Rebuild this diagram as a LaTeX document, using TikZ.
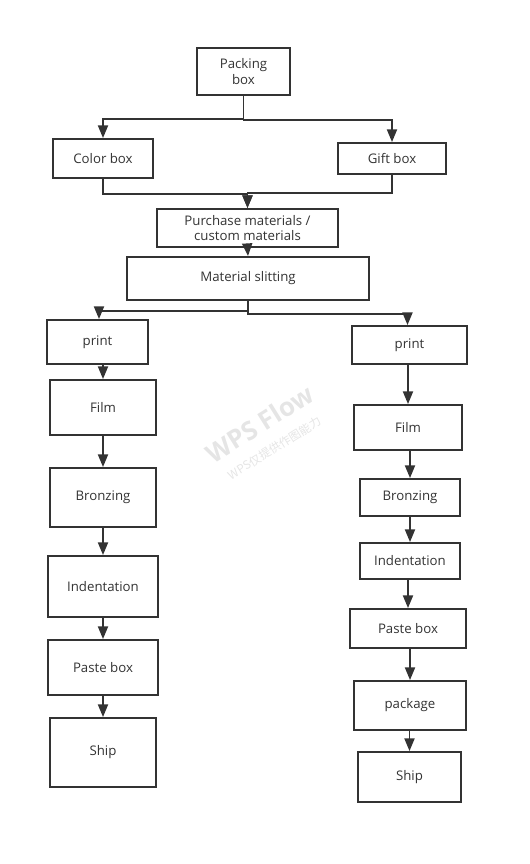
\documentclass[tikz,border=0pt]{standalone}
\usepackage{fontspec}
\setmainfont{Open Sans}
\newfontfamily\cjkfont{Noto Sans CJK SC}
\usetikzlibrary{arrows.meta}
\definecolor{mylinecolor}{rgb}{0.2,0.2,0.2}
\definecolor{mymarkcolor}{rgb}{0.9,0.9,0.9}

\begin{document}
\begin{tikzpicture}[x=0.03cm,y=-0.03cm,
    stepbox/.style={draw=mylinecolor,line width=1.6pt,align=center,
      font=\fontsize{11.3}{13}\selectfont,text=mylinecolor,inner sep=0pt},
    flow/.style={mylinecolor,line width=1.6pt,
      -{Triangle[length=0.38cm,width=0.3cm]}}]
  \useasboundingbox (0,0) rectangle (529,864);
  % watermark
  \node[rotate=32,text=mymarkcolor,align=center,
    font=\bfseries\fontsize{22}{22}\selectfont]
    (mark) at (266,434) {WPS Flow\\[-2pt]
      {\cjkfont\mdseries\fontsize{10}{10}\selectfont WPS仅提供作图能力}};
  % boxes: name/x/y/width/height/text
  \foreach \bn/\bx/\by/\bw/\bh/\bt in {
      pack/243.5/71.5/93/47/{Packing\\box},
      color/103/158.5/100/39/{Color box},
      gift/392/158.5/108/31/{Gift box},
      purch/247.5/228/181/38/{Purchase materials /\\custom materials},
      slit/248/278.5/242/43/{Material slitting},
      printL/97.5/342/101/44/{print},
      filmL/103/407.5/106/55/{Film},
      bronzeL/103/497.5/106/59/{Bronzing},
      indentL/103/586.5/110/61/{Indentation},
      pasteL/103/667.5/110/55/{Paste box},
      shipL/103/752.5/106/69/{Ship},
      printR/409.5/345/115/38/{print},
      filmR/408/427.5/108/45/{Film},
      bronzeR/410/497.5/100/37/{Bronzing},
      indentR/410/561/100/36/{Indentation},
      pasteR/408/628.5/116/39/{Paste box},
      packR/410/705.5/112/49/{package},
      shipR/409.5/777/103/50/{Ship}} {
    \node[stepbox,minimum width=\bw*0.03cm,minimum height=\bh*0.03cm]
      (\bn) at (\bx,\by) {\bt};}
  % top part
  \draw[flow] (pack.south) -- ++(0,23) -| (color.north);
  \draw[flow] (pack.south) -- ++(0,24) -| (gift.north);
  \draw[flow] (color.south) -- ++(0,15) -| (purch.north);
  \draw[flow] (gift.south) -- ++(0,18) -| (purch.north);
  \draw[flow] (purch.south) -- (slit.north);
  \draw[flow] (slit.south) -- ++(0,10) -| ([xshift=1.5*0.03cm]printL.north);
  \draw[flow] (slit.south) -- ++(0,13) -| ([xshift=-2*0.03cm]printR.north);
  % left chain
  \foreach \ta/\tb in {printL/filmL,filmL/bronzeL,bronzeL/indentL,
      indentL/pasteL,pasteL/shipL}
    \draw[flow] (\ta.south -| \tb.north) -- (\tb.north);
  % right chain
  \foreach \ta/\tb in {printR/filmR,filmR/bronzeR,bronzeR/indentR,
      indentR/pasteR,pasteR/packR,packR/shipR}
    \draw[flow] (\ta.south -| \tb.north) -- (\tb.north);
\end{tikzpicture}
\end{document}
